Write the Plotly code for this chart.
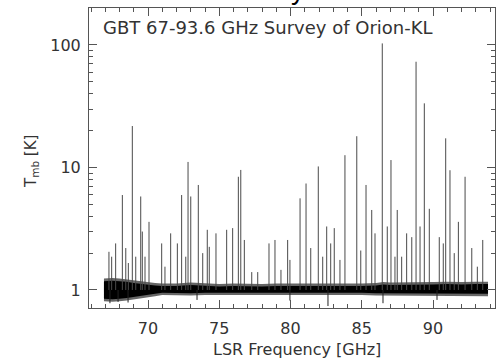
import plotly.graph_objects as go

# ---- spectral line peaks (GHz, K) ----
line_freq = [67.26, 67.45, 67.73, 68.20, 68.44, 68.62, 68.90, 69.14, 69.49, 69.60,
             69.79, 70.07, 70.96, 71.19, 71.59, 72.06, 72.36, 72.65, 72.81, 73.00,
             73.53, 73.84, 74.16, 74.30, 74.77, 75.52, 75.94, 76.34, 76.51, 76.76,
             77.28, 77.70, 78.49, 78.91, 79.33, 79.80, 79.96, 80.67, 81.09, 81.42,
             81.95, 82.26, 82.54, 82.82, 83.07, 83.47, 83.82, 84.65, 84.93, 85.30,
             85.70, 85.93, 86.44, 86.79, 87.05, 87.33, 87.49, 87.80, 88.15, 88.51,
             88.81, 89.09, 89.39, 89.74, 90.44, 90.72, 90.89, 91.19, 91.49, 91.78,
             92.25, 92.72, 93.11, 93.49]
line_peak = [2.05, 1.87, 2.4, 5.96, 2.2, 1.66, 21.8, 1.87, 5.8, 3.0,
             1.87, 3.6, 2.4, 1.55, 2.9, 2.4, 5.96, 1.87, 11.1, 5.8,
             7.2, 2.0, 3.1, 2.25, 2.9, 3.1, 3.2, 8.4, 9.55, 2.56,
             1.4, 1.4, 2.4, 2.56, 1.46, 2.56, 1.76, 5.6, 7.4, 2.2,
             10.2, 1.87, 3.3, 2.4, 3.2, 1.76, 12.6, 18.0, 2.1, 7.2,
             4.5, 2.9, 103.0, 3.3, 11.5, 1.87, 4.5, 1.87, 2.9, 2.7,
             73.0, 3.3, 33.4, 4.6, 2.7, 2.4, 17.3, 9.5, 2.0, 3.6,
             8.4, 2.2, 1.55, 2.56]

# ---- absorption-like dips below the baseline (GHz, K) ----
dip_freq = [67.33, 67.90, 68.60, 73.44, 79.96, 82.63, 86.49, 90.28]
dip_min = [0.78, 0.80, 0.79, 0.83, 0.82, 0.74, 0.78, 0.83]

# ---- noise band envelope ----
band_freq = [66.91, 67.5, 68.0, 68.5, 69.0, 69.5, 70.0, 70.5, 71.0, 72.0, 73.0, 74.0,
             75.0, 76.0, 77.0, 78.0, 79.0, 80.0, 81.0, 82.0, 83.0, 84.0, 85.0,
             86.0, 86.5, 87.0, 88.0, 89.0, 90.0, 91.0, 92.0, 93.0, 93.86]
band_hi = [1.18, 1.19, 1.18, 1.17, 1.14, 1.12, 1.10, 1.09, 1.08, 1.08, 1.10, 1.08,
           1.07, 1.08, 1.07, 1.07, 1.08, 1.08, 1.07, 1.08, 1.08, 1.08, 1.08,
           1.09, 1.11, 1.10, 1.10, 1.11, 1.11, 1.12, 1.11, 1.12, 1.12]
band_lo = [0.85, 0.84, 0.85, 0.86, 0.87, 0.89, 0.91, 0.93, 0.95, 0.95, 0.94, 0.95,
           0.96, 0.95, 0.96, 0.96, 0.95, 0.95, 0.95, 0.95, 0.95, 0.95, 0.95,
           0.94, 0.93, 0.94, 0.94, 0.94, 0.93, 0.93, 0.94, 0.93, 0.93]
band_hi_outer = [1.24, 1.25, 1.24, 1.22, 1.19, 1.17, 1.15, 1.14, 1.13, 1.13, 1.15, 1.13,
                 1.12, 1.13, 1.12, 1.12, 1.13, 1.13, 1.12, 1.13, 1.13, 1.13, 1.13,
                 1.14, 1.16, 1.15, 1.15, 1.16, 1.16, 1.17, 1.16, 1.17, 1.17]
band_lo_outer = [0.81, 0.80, 0.81, 0.82, 0.83, 0.85, 0.87, 0.89, 0.91, 0.91, 0.90, 0.91,
                 0.92, 0.91, 0.92, 0.92, 0.91, 0.91, 0.91, 0.91, 0.91, 0.91, 0.91,
                 0.90, 0.89, 0.90, 0.90, 0.90, 0.89, 0.89, 0.90, 0.89, 0.89]

x_ticks = [70, 75, 80, 85, 90]
y_ticks = [1, 10, 100]
y_tick_text = ["1", "10", "100"]
y_minor = [2, 3, 4, 5, 6, 7, 8, 9, 20, 30, 40, 50, 60, 70, 80, 90, 200]

FONT = "DejaVu Sans"
INK = "#333333"

fig = go.Figure()

# outer fuzzy band
fig.add_trace(go.Scatter(
    x=band_freq + band_freq[::-1], y=band_hi_outer + band_lo_outer[::-1],
    fill="toself", fillcolor="rgba(0,0,0,0.6)", line=dict(width=0),
    mode="lines", hoverinfo="skip", showlegend=False))
# core band
fig.add_trace(go.Scatter(
    x=band_freq + band_freq[::-1], y=band_hi + band_lo[::-1],
    fill="toself", fillcolor="black", line=dict(width=0),
    mode="lines", hoverinfo="skip", showlegend=False))

# spectral lines as vertical spikes
lx, ly = [], []
for f, t in zip(line_freq, line_peak):
    lx += [f, f, None]
    ly += [1.0, t, None]
fig.add_trace(go.Scatter(x=lx, y=ly, mode="lines",
                         line=dict(color="#4a4a4a", width=1),
                         hoverinfo="skip", showlegend=False))

# dips
dx, dy = [], []
for f, t in zip(dip_freq, dip_min):
    dx += [f, f, None]
    dy += [1.0, t, None]
fig.add_trace(go.Scatter(x=dx, y=dy, mode="lines",
                         line=dict(color="#222222", width=1),
                         hoverinfo="skip", showlegend=False))

axis_common = dict(showline=True, linecolor="#555555", linewidth=1,
                   mirror="allticks", ticks="inside", tickcolor="#555555",
                   showgrid=False, zeroline=False, automargin=False)

fig.update_xaxes(range=[65.86, 94.35], tickvals=x_ticks, ticklen=8,
                 minor=dict(dtick=1, tick0=70, ticks="inside", ticklen=4,
                            tickcolor="#555555", showgrid=False),
                 tickfont=dict(family=FONT, size=16, color=INK),
                 ticklabelstandoff=6,
                 **axis_common)
fig.update_yaxes(type="log", range=[-0.147, 2.302], tickvals=y_ticks,
                 ticktext=y_tick_text, ticklen=8,
                 minor=dict(tickvals=y_minor, ticks="inside", ticklen=4,
                            tickcolor="#555555", showgrid=False),
                 tickfont=dict(family=FONT, size=16, color=INK),
                 ticklabelstandoff=4,
                 **axis_common)

fig.add_annotation(text="GBT 67-93.6 GHz Survey of Orion-KL",
                   xref="paper", yref="paper", x=(101 - 89) / 406, y=(308 - 27) / 300,
                   xanchor="left", yanchor="middle", showarrow=False,
                   font=dict(family=FONT, size=18, color=INK))
fig.add_annotation(text="LSR Frequency [GHz]",
                   xref="paper", yref="paper", x=(297 - 89) / 406, y=(308 - 349) / 300,
                   xanchor="center", yanchor="middle", showarrow=False,
                   font=dict(family=FONT, size=16, color=INK))
fig.add_annotation(text="T<sub>mb</sub> [K]",
                   xref="paper", yref="paper", x=(31 - 89) / 406, y=(308 - 162) / 300,
                   xanchor="center", yanchor="middle", showarrow=False, textangle=-90,
                   font=dict(family=FONT, size=15, color=INK))
fig.add_annotation(text="Frayer et al. 2015",
                   xref="paper", yref="paper", x=(358 - 89) / 406, y=(308 + 11) / 300,
                   xanchor="center", yanchor="middle", showarrow=False,
                   font=dict(family="Liberation Sans", size=28, color="black"))

fig.update_layout(width=500, height=360,
                  margin=dict(l=89, r=5, t=8, b=52, autoexpand=False),
                  paper_bgcolor="white", plot_bgcolor="white",
                  showlegend=False)

fig.write_html("out.html", config={"displayModeBar": False},
               post_script="document.body.style.margin='0';document.body.style.padding='0';")
